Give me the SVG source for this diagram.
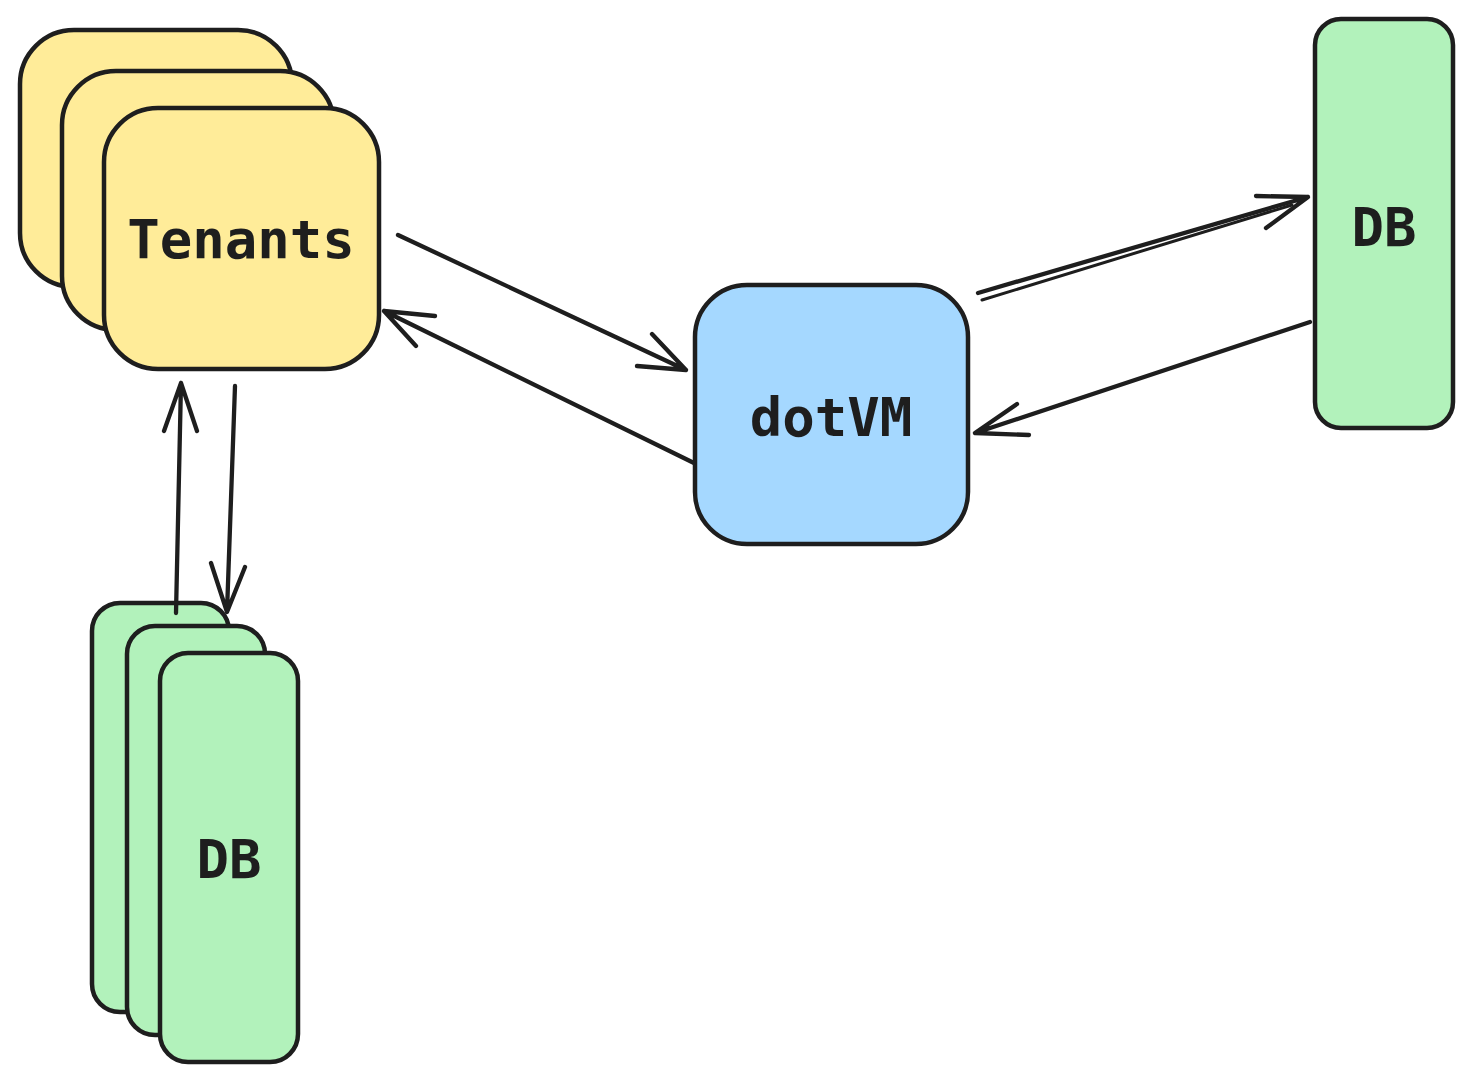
<svg xmlns="http://www.w3.org/2000/svg" width="1473" height="1082" viewBox="0 0 1473 1082">
<style>
.box{stroke:#1e1e1e;stroke-width:4.5;stroke-linejoin:round}
.y{fill:#ffec99}
.b{fill:#a5d8ff}
.g{fill:#b2f2bb}
.lbl{font-family:"DejaVu Sans Mono","Liberation Mono",monospace;font-weight:bold;font-size:54px;fill:#1e1e1e;text-anchor:middle}
.c{fill:none;stroke:#1e1e1e;stroke-width:4.3;stroke-linecap:round;stroke-linejoin:round}
.c2{fill:none;stroke:#1e1e1e;stroke-width:3;stroke-linecap:round}
</style>
<rect width="1473" height="1082" fill="#ffffff"/>
<g id="tenants">
  <rect class="box y" x="20" y="30" width="272" height="257" rx="54"/>
  <rect class="box y" x="62" y="71" width="272" height="259" rx="54"/>
  <rect class="box y" x="104" y="108" width="275" height="261" rx="54"/>
  <text class="lbl" x="241" y="258">Tenants</text>
</g>
<g id="dotvm">
  <rect class="box b" x="695" y="285" width="273" height="259" rx="52"/>
  <text class="lbl" x="831" y="436">dotVM</text>
</g>
<g id="db-right">
  <rect class="box g" x="1315" y="19" width="138" height="409" rx="26"/>
  <text class="lbl" x="1384" y="246">DB</text>
</g>
<g id="db-stack">
  <rect class="box g" x="92" y="603" width="137" height="409" rx="28"/>
  <rect class="box g" x="127" y="626" width="138" height="409" rx="28"/>
  <rect class="box g" x="160" y="653" width="138" height="409" rx="28"/>
  <text class="lbl" x="229" y="878">DB</text>
</g>
<g id="connectors">
  <path class="c" d="M398,235 L686,370 M637,366 L686,370 L652,334"/>
  <path class="c" d="M694,463 L384,311 M435,316 L384,311 L416,346"/>
  <path class="c" d="M978,293 L1308,197 M1256,196 L1308,197 L1266,228"/>
  <path class="c2" d="M982,300 L1292,205"/>
  <path class="c" d="M1310,322 L975,433 M1017,404 L975,433 L1029,435"/>
  <path class="c" d="M235,386 L227,612 M211,563 L227,612 L245,567"/>
  <path class="c" d="M176,613 L181,383 M164,431 L181,383 L197,431"/>
</g>
</svg>
